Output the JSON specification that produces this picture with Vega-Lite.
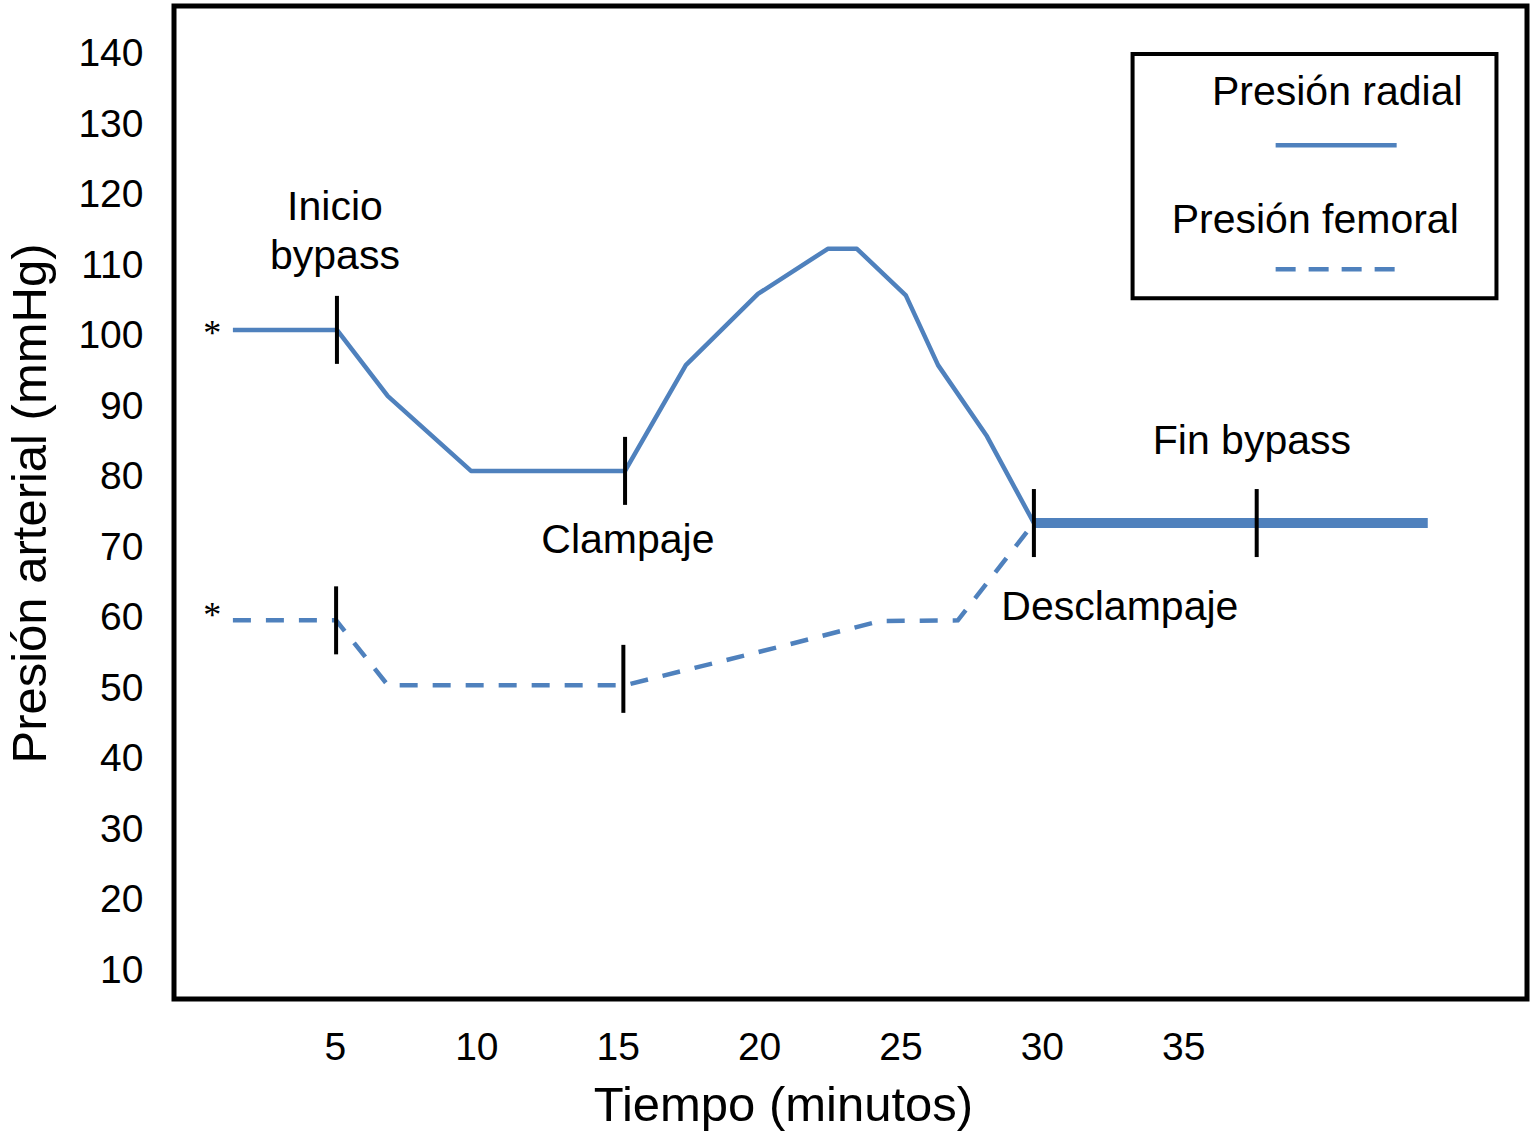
{
  "$schema": "https://vega.github.io/schema/vega-lite/v6.json",
  "width": 1353,
  "height": 993,
  "autosize": {"type": "none"},
  "padding": {"left": 174, "top": 6, "right": 6, "bottom": 133},
  "background": "white",
  "config": {
    "view": {"stroke": "black", "strokeWidth": 5},
    "font": "Liberation Sans",
    "axis": {"labelFont": "Liberation Sans", "titleFont": "Liberation Sans", "labelColor": "black", "titleColor": "black", "domain": false, "ticks": false, "grid": false, "titleFontWeight": "normal"}
  },
  "datasets": {
    "series": [
      {"serie": "Presión radial", "t": 1.39, "p": 100.8},
      {"serie": "Presión radial", "t": 5.07, "p": 100.8},
      {"serie": "Presión radial", "t": 6.87, "p": 91.4},
      {"serie": "Presión radial", "t": 9.81, "p": 80.8},
      {"serie": "Presión radial", "t": 15.26, "p": 80.8},
      {"serie": "Presión radial", "t": 17.41, "p": 95.8},
      {"serie": "Presión radial", "t": 19.96, "p": 105.9},
      {"serie": "Presión radial", "t": 22.43, "p": 112.3},
      {"serie": "Presión radial", "t": 23.46, "p": 112.3},
      {"serie": "Presión radial", "t": 25.19, "p": 105.7},
      {"serie": "Presión radial", "t": 26.33, "p": 95.8},
      {"serie": "Presión radial", "t": 28.06, "p": 85.7},
      {"serie": "Presión radial", "t": 29.72, "p": 73.4},
      {"serie": "Presión femoral", "t": 1.39, "p": 59.6},
      {"serie": "Presión femoral", "t": 5.04, "p": 59.6},
      {"serie": "Presión femoral", "t": 6.87, "p": 50.4},
      {"serie": "Presión femoral", "t": 9.81, "p": 50.4},
      {"serie": "Presión femoral", "t": 15.26, "p": 50.4},
      {"serie": "Presión femoral", "t": 20.98, "p": 56.1},
      {"serie": "Presión femoral", "t": 24.27, "p": 59.5},
      {"serie": "Presión femoral", "t": 27.03, "p": 59.6},
      {"serie": "Presión femoral", "t": 29.72, "p": 73.4},
      {"serie": "Post", "t": 29.72, "p": 73.4},
      {"serie": "Post", "t": 43.65, "p": 73.4}
    ],
    "marcas": [
      {"t": 5.07, "p": 100.8},
      {"t": 15.26, "p": 80.8},
      {"t": 5.04, "p": 59.6},
      {"t": 15.2, "p": 51.3},
      {"t": 29.72, "p": 73.4},
      {"t": 37.6, "p": 73.4}
    ],
    "textos": [
      {"label": "Inicio", "t": 5.0, "p": 116.4},
      {"label": "bypass", "t": 5.0, "p": 109.4},
      {"label": "Clampaje", "t": 15.36, "p": 69.15},
      {"label": "Fin bypass", "t": 37.43, "p": 83.2},
      {"label": "Desclampaje", "t": 32.76, "p": 59.6},
      {"label": "Presión radial", "t": 40.45, "p": 132.7},
      {"label": "Presión femoral", "t": 39.67, "p": 114.5}
    ],
    "asteriscos": [
      {"label": "*", "t": 0.66, "p": 98.65},
      {"label": "*", "t": 0.66, "p": 58.65}
    ],
    "caja": [
      {"t": 33.21, "t2": 46.08, "p": 139.93, "p2": 105.3}
    ],
    "leyenda": [
      {"serie": "Presión radial", "t": 38.27, "t2": 42.55, "p": 127.0},
      {"serie": "Presión femoral", "t": 38.27, "t2": 42.55, "p": 109.4}
    ]
  },
  "encoding": {
    "x": {
      "field": "t", "type": "quantitative",
      "scale": {"domain": [-0.693, 47.16], "nice": false, "zero": false},
      "axis": {
        "values": [5, 10, 15, 20, 25, 30, 35],
        "labelFontSize": 39, "labelPadding": 29,
        "title": "Tiempo (minutos)", "titleFontSize": 49,
        "titleX": 609, "titleY": 121, "titleBaseline": "alphabetic", "titleAnchor": null, "titleAlign": "center"
      }
    },
    "y": {
      "field": "p", "type": "quantitative",
      "scale": {"domain": [5.89, 146.74], "nice": false, "zero": false},
      "axis": {
        "values": [10, 20, 30, 40, 50, 60, 70, 80, 90, 100, 110, 120, 130, 140],
        "labelFontSize": 39, "labelPadding": 31,
        "title": "Presión arterial (mmHg)", "titleFontSize": 49,
        "titleX": -129, "titleY": 497, "titleAngle": -90, "titleBaseline": "alphabetic", "titleAlign": "center"
      }
    }
  },
  "layer": [
    {
      "data": {"name": "series"},
      "transform": [{"filter": "datum.serie === 'Presión radial'"}],
      "mark": {"type": "line", "color": "#4F81BD", "strokeWidth": 4.5, "strokeJoin": "round"}
    },
    {
      "data": {"name": "series"},
      "transform": [{"filter": "datum.serie === 'Presión femoral'"}],
      "mark": {"type": "line", "color": "#4F81BD", "strokeWidth": 4.5, "strokeDash": [18, 15]}
    },
    {
      "data": {"name": "series"},
      "transform": [{"filter": "datum.serie === 'Post'"}],
      "mark": {"type": "line", "color": "#4F81BD", "strokeWidth": 10}
    },
    {
      "data": {"name": "marcas"},
      "mark": {"type": "tick", "orient": "vertical", "color": "black", "size": 68, "thickness": 4, "opacity": 1}
    },
    {
      "data": {"name": "textos"},
      "mark": {"type": "text", "font": "Liberation Sans", "fontSize": 41, "align": "center", "baseline": "alphabetic", "color": "black"},
      "encoding": {"text": {"field": "label"}}
    },
    {
      "data": {"name": "asteriscos"},
      "mark": {"type": "text", "font": "Liberation Serif", "fontSize": 36, "align": "center", "baseline": "alphabetic", "color": "black"},
      "encoding": {"text": {"field": "label"}}
    },
    {
      "data": {"name": "caja"},
      "mark": {"type": "rect", "fill": null, "fillOpacity": 0, "stroke": "black", "strokeWidth": 4},
      "encoding": {"x2": {"field": "t2"}, "y2": {"field": "p2"}}
    },
    {
      "data": {"name": "leyenda"},
      "transform": [{"filter": "datum.serie === 'Presión radial'"}],
      "mark": {"type": "rule", "color": "#4F81BD", "strokeWidth": 4.5},
      "encoding": {"x2": {"field": "t2"}}
    },
    {
      "data": {"name": "leyenda"},
      "transform": [{"filter": "datum.serie === 'Presión femoral'"}],
      "mark": {"type": "rule", "color": "#4F81BD", "strokeWidth": 4.5, "strokeDash": [20, 13]},
      "encoding": {"x2": {"field": "t2"}}
    }
  ]
}
